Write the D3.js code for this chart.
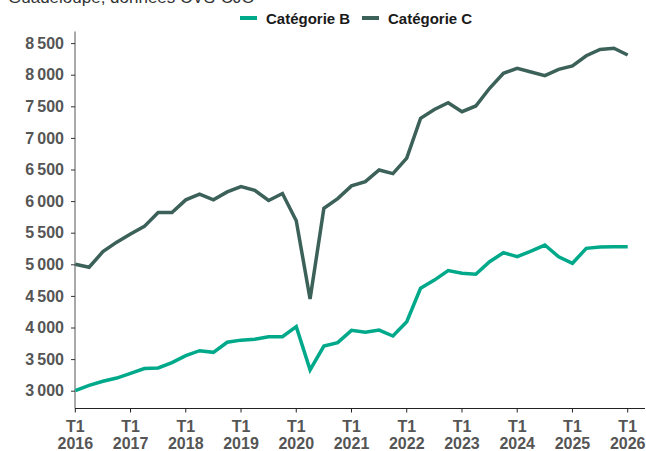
<!DOCTYPE html>
<html><head><meta charset="utf-8">
<script src="https://cdn.jsdelivr.net/npm/d3@7"></script>
<style>body{margin:0;background:#fff}svg{display:block}text{font-family:"Liberation Sans",Arial,sans-serif}</style>
</head><body><svg id="c" width="646" height="451"></svg>
<script>
const title = "Guadeloupe, données CVS-CJO";
const seriesNames = ["Catégorie B", "Catégorie C"];
const years = [2016,2017,2018,2019,2020,2021,2022,2023,2024,2025,2026];
const yTicks = [3000,3500,4000,4500,5000,5500,6000,6500,7000,7500,8000,8500];
const catB = [3000,3085,3150,3200,3275,3350,3360,3445,3555,3633,3607,3766,3800,3815,3854,3854,4013,3330,3707,3760,3955,3925,3960,3865,4092,4620,4750,4900,4858,4842,5041,5184,5120,5210,5305,5120,5016,5253,5275,5279,5279];
const catC = [5000,4953,5200,5350,5480,5600,5820,5820,6020,6110,6020,6145,6230,6170,6010,6120,5690,4450,5886,6040,6240,6307,6492,6435,6680,7310,7450,7557,7415,7505,7785,8022,8100,8043,7985,8085,8138,8300,8400,8418,8312];
const colors = ["#00A98A", "#3B6159"];

const svg = d3.select("#c");
const x = d3.scaleLinear().domain([0, 40]).range([75.3, 627.7]);
const y = d3.scaleLinear().domain([3000, 8500]).range([390.7, 43.1]);
const labelColor = "#555555";

// title (partly cut off at top)
svg.append("text").attr("x", 8).attr("y", 3).attr("font-size", 17).attr("fill", "#333").text(title);

// y axis line
svg.append("line").attr("x1", 75).attr("x2", 75).attr("y1", 31.5).attr("y2", 408.5).attr("stroke", "#8c8c8c").attr("stroke-width", 1.5);
const ya = svg.append("g").attr("transform", "translate(75,0)")
  .call(d3.axisLeft(y).tickValues(yTicks).tickSize(4).tickPadding(7)
    .tickFormat(d => d3.format(",")(d).replace(",", "\u202F")));
ya.select(".domain").remove();
ya.selectAll(".tick line").attr("stroke", "#333");
ya.selectAll(".tick text").attr("font-size", 16).attr("font-weight", "bold").attr("fill", labelColor).attr("font-family", '"Liberation Sans",Arial,sans-serif');

// x axis
svg.append("line").attr("x1", 75).attr("x2", 645).attr("y1", 408.5).attr("y2", 408.5).attr("stroke", "#222").attr("stroke-width", 1);
const xa = svg.append("g").attr("transform", "translate(0,408.5)");
years.forEach((yr, k) => {
  const xi = x(k * 4);
  xa.append("line").attr("x1", xi).attr("x2", xi).attr("y1", 0).attr("y2", 4).attr("stroke", "#222");
  xa.append("text").attr("x", xi).attr("y", 23).attr("text-anchor", "middle").attr("font-size", 16).attr("font-weight", "bold").attr("fill", labelColor).text("T1");
  xa.append("text").attr("x", xi).attr("y", 40).attr("text-anchor", "middle").attr("font-size", 16).attr("font-weight", "bold").attr("fill", labelColor).text(yr);
});

const line = d3.line().x((d, i) => x(i)).y(d => y(d));
[catB, catC].forEach((s, k) => {
  svg.append("path").datum(s).attr("d", line).attr("fill", "none")
    .attr("stroke", colors[k]).attr("stroke-width", 3.5).attr("stroke-linejoin", "miter");
});

// legend
const leg = [{x: 240, tx: 266}, {x: 362, tx: 388}];
seriesNames.forEach((n, k) => {
  svg.append("line").attr("x1", leg[k].x).attr("x2", leg[k].x + 17).attr("y1", 18).attr("y2", 18).attr("stroke", colors[k]).attr("stroke-width", 4);
  svg.append("text").attr("x", leg[k].tx).attr("y", 23.5).attr("font-size", 15).attr("font-weight", "bold").attr("fill", "#1a1a1a").text(n);
});
</script></body></html>
